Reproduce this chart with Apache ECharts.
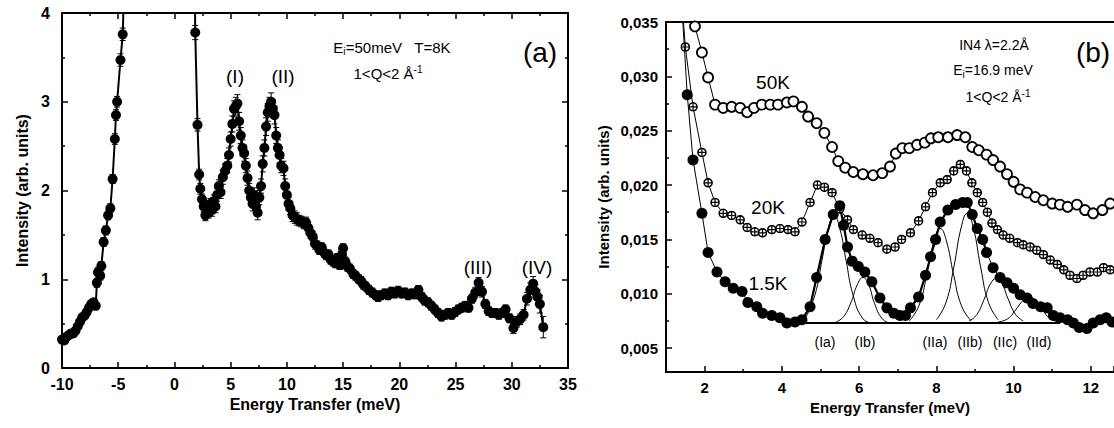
<!DOCTYPE html>
<html>
<head>
<meta charset="utf-8">
<script src="https://cdn.jsdelivr.net/npm/echarts@6/dist/echarts.min.js"></script>
<style>
  html, body { margin: 0; padding: 0; background: #fff; }
  #chart { width: 1114px; height: 428px; }
</style>
</head>
<body>
<div id="chart"></div>
<script>
// ---- panel (a): Ei=50meV, T=8K  -> [energy, intensity, error]
const aData = [
  [-10.0,0.32,0.03],[-9.8,0.31,0.03],[-9.6,0.35,0.03],[-9.4,0.37,0.03],[-9.2,0.39,0.03],[-9.0,0.39,0.03],
  [-8.8,0.42,0.03],[-8.6,0.47,0.03],[-8.4,0.52,0.03],[-8.2,0.57,0.03],[-8.0,0.59,0.03],[-7.8,0.63,0.03],
  [-7.6,0.68,0.04],[-7.4,0.72,0.04],[-7.2,0.74,0.04],[-7.0,0.70,0.04],[-6.9,0.96,0.05],[-6.8,1.08,0.05],
  [-6.6,1.04,0.05],[-6.5,1.15,0.05],[-6.3,1.42,0.05],[-6.1,1.55,0.05],[-5.9,1.72,0.05],[-5.7,1.80,0.05],
  [-5.5,2.13,0.05],[-5.3,2.58,0.06],[-5.2,2.85,0.06],[-5.1,3.00,0.06],[-4.8,3.47,0.07],[-4.6,3.76,0.07],
  [-4.2,5.5,0.1],[1.7,5.5,0.1],
  [1.85,3.78,0.08],[2.05,2.74,0.07],[2.2,2.18,0.06],[2.3,2.02,0.06],[2.45,1.90,0.06],[2.6,1.82,0.06],
  [2.75,1.72,0.06],[2.9,1.80,0.06],[3.05,1.75,0.06],[3.2,1.85,0.06],[3.35,1.78,0.07],[3.5,1.88,0.07],
  [3.65,1.82,0.07],[3.8,1.95,0.07],[3.95,2.05,0.07],[4.1,1.98,0.07],[4.3,2.15,0.08],[4.5,2.22,0.08],
  [4.7,2.28,0.08],[4.85,2.40,0.08],[5.0,2.58,0.08],[5.15,2.75,0.09],[5.3,2.92,0.09],[5.45,2.95,0.1],
  [5.6,2.98,0.1],[5.75,2.78,0.1],[5.9,2.62,0.09],[6.05,2.48,0.09],[6.2,2.42,0.09],[6.35,2.28,0.08],
  [6.5,2.14,0.08],[6.65,2.00,0.08],[6.8,1.92,0.08],[6.95,1.85,0.08],[7.1,1.95,0.08],[7.25,1.82,0.08],
  [7.4,1.75,0.08],[7.55,1.92,0.08],[7.7,2.05,0.08],[7.85,2.30,0.09],[8.0,2.48,0.09],[8.15,2.72,0.1],
  [8.3,2.88,0.1],[8.45,2.95,0.1],[8.6,3.00,0.1],[8.75,2.92,0.1],[8.9,2.85,0.1],[9.05,2.62,0.09],
  [9.2,2.48,0.09],[9.35,2.40,0.09],[9.5,2.28,0.08],[9.7,2.25,0.08],[9.85,2.05,0.08],[10.0,1.95,0.08],
  [10.15,1.85,0.07],[10.3,1.80,0.07],[10.5,1.72,0.07],[10.7,1.70,0.07],[10.9,1.68,0.07],[11.1,1.66,0.06],
  [11.3,1.65,0.06],[11.5,1.63,0.06],[11.7,1.64,0.06],[11.9,1.58,0.06],[12.1,1.52,0.06],[12.3,1.48,0.06],
  [12.5,1.40,0.06],[12.7,1.38,0.05],[12.9,1.33,0.05],[13.1,1.36,0.05],[13.3,1.30,0.05],[13.5,1.27,0.05],
  [13.7,1.28,0.05],[13.9,1.22,0.05],[14.1,1.20,0.05],[14.3,1.18,0.05],[14.5,1.24,0.05],[14.7,1.16,0.05],
  [14.9,1.28,0.05],[15.0,1.35,0.05],[15.2,1.20,0.05],[15.4,1.14,0.05],[15.6,1.12,0.05],[15.9,1.06,0.05],
  [16.1,1.04,0.05],[16.4,1.00,0.05],[16.6,0.98,0.05],[16.8,0.94,0.05],[17.0,0.92,0.05],[17.3,0.88,0.05],
  [17.6,0.85,0.05],[17.9,0.82,0.05],[18.1,0.80,0.05],[18.4,0.82,0.05],[18.7,0.84,0.05],[19.0,0.82,0.05],
  [19.3,0.86,0.05],[19.6,0.84,0.05],[19.9,0.87,0.05],[20.2,0.84,0.05],[20.5,0.85,0.05],[20.8,0.82,0.05],
  [21.1,0.84,0.05],[21.4,0.83,0.05],[21.7,0.88,0.05],[22.0,0.80,0.05],[22.25,0.76,0.05],[22.55,0.74,0.05],
  [22.85,0.70,0.05],[23.15,0.66,0.05],[23.45,0.62,0.05],[23.75,0.58,0.05],[24.05,0.60,0.05],[24.35,0.62,0.05],
  [24.65,0.60,0.05],[24.95,0.63,0.05],[25.25,0.66,0.05],[25.55,0.68,0.05],[25.85,0.70,0.05],[26.15,0.68,0.05],
  [26.45,0.78,0.05],[26.75,0.85,0.06],[27.05,0.96,0.06],[27.35,0.86,0.06],[27.65,0.72,0.05],[27.95,0.64,0.05],
  [28.25,0.62,0.05],[28.55,0.62,0.05],[28.85,0.60,0.05],[29.15,0.62,0.05],[29.45,0.66,0.05],[29.8,0.56,0.05],
  [30.15,0.45,0.06],[30.45,0.52,0.06],[30.75,0.55,0.06],[31.05,0.60,0.06],[31.35,0.78,0.07],[31.65,0.88,0.08],
  [31.9,0.95,0.08],[32.1,0.86,0.08],[32.3,0.80,0.08],[32.5,0.72,0.1],[32.8,0.46,0.12]
];

// ---- panel (b): IN4, Ei=16.9 meV  -> [energy, intensity]
const k50 = [
  [1.4,0.040],[1.75,0.0346],[1.93,0.0322],[2.09,0.0299],[2.27,0.0274],[2.48,0.0271],[2.7,0.0272],[2.92,0.0271],
  [3.1,0.0267],[3.28,0.0271],[3.48,0.0274],[3.7,0.0274],[3.9,0.0274],[4.13,0.0276],[4.3,0.0277],[4.52,0.0272],
  [4.68,0.0263],[4.9,0.0257],[5.1,0.0248],[5.3,0.0235],[5.46,0.0222],[5.64,0.0216],[5.85,0.0212],[6.1,0.0210],
  [6.36,0.0209],[6.6,0.0211],[6.8,0.0217],[6.95,0.0229],[7.12,0.0234],[7.3,0.0234],[7.5,0.0237],[7.7,0.0239],
  [7.86,0.0243],[8.05,0.0244],[8.3,0.0244],[8.54,0.0246],[8.75,0.0244],[8.93,0.0235],[9.1,0.0232],[9.3,0.0228],
  [9.47,0.0223],[9.65,0.0217],[9.83,0.0210],[10.0,0.0203],[10.17,0.0196],[10.35,0.0193],[10.56,0.0189],
  [10.77,0.0186],[11.0,0.0183],[11.2,0.0182],[11.4,0.0180],[11.64,0.0182],[11.85,0.0177],[12.06,0.0174],
  [12.3,0.0177],[12.5,0.0183]
];
const k20 = [
  [1.35,0.040],[1.5,0.0327],[1.7,0.0272],[1.93,0.0230],[2.09,0.0202],[2.27,0.0184],[2.48,0.0174],[2.7,0.0172],
  [2.92,0.0168],[3.1,0.0161],[3.3,0.0157],[3.5,0.0156],[3.74,0.0159],[3.95,0.0160],[4.16,0.0159],[4.34,0.0157],
  [4.52,0.0166],[4.73,0.0184],[4.92,0.0200],[5.1,0.0198],[5.3,0.0193],[5.5,0.0178],[5.7,0.0168],[5.85,0.0159],
  [6.08,0.0154],[6.28,0.0151],[6.49,0.0147],[6.72,0.0141],[6.93,0.0143],[7.1,0.0150],[7.33,0.0156],[7.54,0.0167],
  [7.72,0.0180],[7.9,0.0193],[8.1,0.0202],[8.28,0.0205],[8.45,0.0213],[8.62,0.0219],[8.78,0.0213],[8.92,0.0202],
  [9.06,0.0193],[9.2,0.0184],[9.32,0.0175],[9.44,0.0165],[9.58,0.0159],[9.73,0.0154],[9.9,0.0151],[10.1,0.0147],
  [10.25,0.0145],[10.43,0.0143],[10.6,0.0140],[10.77,0.0136],[10.95,0.0131],[11.13,0.0127],[11.3,0.0122],
  [11.46,0.0117],[11.64,0.0114],[11.8,0.0117],[11.98,0.0120],[12.17,0.0120],[12.33,0.0124],[12.5,0.0122]
];
const k15 = [
  [1.35,0.040],[1.55,0.0283],[1.7,0.0223],[1.93,0.0174],[2.09,0.0138],[2.32,0.0120],[2.53,0.0111],[2.74,0.0105],
  [2.97,0.0102],[3.12,0.0092],[3.35,0.0088],[3.5,0.0082],[3.74,0.0080],[3.95,0.0078],[4.13,0.0073],[4.34,0.0074],
  [4.52,0.0076],[4.73,0.0088],[4.9,0.0115],[5.12,0.0150],[5.33,0.0173],[5.5,0.0181],[5.6,0.0163],[5.7,0.0143],
  [5.82,0.0130],[5.98,0.0125],[6.15,0.0120],[6.33,0.0111],[6.54,0.0096],[6.72,0.0087],[6.9,0.0082],[7.06,0.0080],
  [7.2,0.0080],[7.33,0.0087],[7.54,0.0097],[7.72,0.0117],[7.85,0.0134],[7.98,0.0150],[8.1,0.0166],[8.3,0.0177],
  [8.5,0.0182],[8.68,0.0184],[8.8,0.0184],[8.93,0.0173],[9.06,0.0160],[9.2,0.0150],[9.3,0.0138],[9.47,0.0124],
  [9.65,0.0115],[9.83,0.0110],[10.0,0.0105],[10.17,0.0099],[10.35,0.0096],[10.5,0.0091],[10.7,0.0088],
  [10.87,0.0087],[11.03,0.0080],[11.2,0.0078],[11.4,0.0076],[11.55,0.0073],[11.7,0.0069],[11.9,0.0068],
  [12.06,0.0073],[12.24,0.0076],[12.4,0.0078],[12.55,0.0074]
];
// fitted components
const base = [[4.6,0.0073],[11.2,0.0073]];
const fitIa  = [[4.6,0.0077],[4.85,0.0098],[5.05,0.0133],[5.2,0.0160],[5.35,0.0172],[5.5,0.0160],[5.65,0.0133],[5.85,0.0098],[6.1,0.0077],[6.35,0.0073]];
const fitIb  = [[5.4,0.0074],[5.6,0.0079],[5.8,0.0093],[5.95,0.0108],[6.1,0.0115],[6.25,0.0108],[6.4,0.0091],[6.6,0.0077],[6.8,0.0073]];
const fitIIa = [[7.3,0.0075],[7.55,0.0089],[7.75,0.0117],[7.95,0.0150],[8.1,0.0160],[8.25,0.0150],[8.45,0.0117],[8.65,0.0089],[8.9,0.0075]];
const fitIIb = [[8.0,0.0076],[8.25,0.0092],[8.45,0.0124],[8.65,0.0162],[8.8,0.0174],[8.95,0.0162],[9.15,0.0124],[9.35,0.0092],[9.6,0.0076]];
const fitIIc = [[8.85,0.0075],[9.05,0.0081],[9.25,0.0096],[9.4,0.0109],[9.55,0.0114],[9.7,0.0109],[9.85,0.0096],[10.05,0.0081],[10.25,0.0075]];
const fitIId = [[9.6,0.0074],[9.85,0.0077],[10.05,0.0085],[10.25,0.0094],[10.4,0.0097],[10.55,0.0094],[10.75,0.0085],[10.95,0.0077],[11.2,0.0074]];
const fitLabels = ['(Ia)', '(Ib)', '(IIa)', '(IIb)', '(IIc)', '(IId)'];

const FONT = '"Liberation Sans", Arial, sans-serif';
const NARROW = '"Liberation Sans Narrow", "Liberation Sans", Arial, sans-serif';

const crossSvg = "<svg xmlns='http://www.w3.org/2000/svg' width='20' height='20' viewBox='0 0 20 20'>" +
  "<circle cx='10' cy='10' r='8' fill='white' stroke='black' stroke-width='3.2'/>" +
  "<path d='M10 2V18M2 10H18' stroke='black' stroke-width='2.4'/></svg>";
const crossSymbol = 'image://data:image/svg+xml;charset=utf-8,' + encodeURIComponent(crossSvg);

const chart = echarts.init(document.getElementById('chart'), null, { renderer: 'svg' });

function frameAxis(gridIndex, pos, extra) {
  return Object.assign({
    gridIndex, position: pos, type: 'value',
    axisLine: { show: true, onZero: false, lineStyle: { color: '#000', width: 2 } },
    axisTick: { show: true, inside: true, length: 6, lineStyle: { color: '#000', width: 1.5 } },
    minorTick: { show: true, splitNumber: 2, length: 3, lineStyle: { color: '#000', width: 1.5 } },
    axisLabel: { show: false },
    splitLine: { show: false }
  }, extra);
}

const labelA = { show: true, color: '#000', fontFamily: FONT, fontSize: 16, fontWeight: 'bold', margin: 8 };
const labelB = { show: true, color: '#000', fontFamily: FONT, fontSize: 15, fontWeight: 'bold', margin: 8 };
const nameStyle = { color: '#000', fontFamily: FONT, fontSize: 16, fontWeight: 'bold' };

function fitSeries(data) {
  return {
    type: 'line', xAxisIndex: 2, yAxisIndex: 2, data, smooth: 0.5, symbol: 'none',
    lineStyle: { color: '#000', width: 1 }, z: 1, silent: true
  };
}

function txt(x, y, text, size, opts) {
  return {
    type: 'text', x, y, silent: true,
    style: Object.assign({
      text, fill: '#000', font: size + 'px ' + FONT, align: 'center', verticalAlign: 'middle'
    }, opts || {})
  };
}

const richSub = {
  s: { fontSize: 10, fontFamily: NARROW, padding: [9, 0, 0, 0], fill: '#000' },
  p: { fontSize: 10, fontFamily: NARROW, padding: [0, 0, 8, 0], fill: '#000' }
};

const option = {
  backgroundColor: '#fff',
  animation: false,
  grid: [
    { left: 62, right: 546, top: 13, bottom: 60, outerBoundsMode: 'none' },
    { left: 666, right: 0, top: 22, bottom: 56, outerBoundsMode: 'none' }
  ],
  xAxis: [
    frameAxis(0, 'bottom', {
      min: -10, max: 35, interval: 5, axisLabel: labelA,
      name: 'Energy Transfer (meV)', nameLocation: 'middle', nameGap: 26, nameTextStyle: nameStyle
    }),
    frameAxis(0, 'top', { min: -10, max: 35, interval: 5 }),
    frameAxis(1, 'bottom', {
      min: 1, max: 12.6, splitNumber: 6,
      axisLabel: Object.assign({}, labelB, { showMinLabel: false, showMaxLabel: false }),
      name: 'Energy Transfer (meV)', nameLocation: 'middle', nameGap: 27,
      nameTextStyle: Object.assign({}, nameStyle, { fontSize: 15 })
    }),
    frameAxis(1, 'top', { min: 1, max: 12.6, splitNumber: 6, axisTick: { show: false }, minorTick: { show: false } })
  ],
  yAxis: [
    frameAxis(0, 'left', {
      min: 0, max: 4, interval: 1, axisLabel: Object.assign({}, labelA, { margin: 12 }),
      name: 'Intensity (arb. units)', nameLocation: 'middle', nameGap: 32, nameRotate: 90, nameTextStyle: nameStyle
    }),
    frameAxis(0, 'right', { min: 0, max: 4, interval: 1 }),
    frameAxis(1, 'left', {
      min: 0.0028, max: 0.035, splitNumber: 6,
      axisLabel: Object.assign({}, labelB, {
        showMinLabel: false,
        formatter: v => v.toFixed(3).replace('.', ',')
      }),
      name: 'Intensity (arb. units)', nameLocation: 'middle', nameGap: 55, nameRotate: 90,
      nameTextStyle: Object.assign({}, nameStyle, { fontSize: 15 })
    })
  ],
  series: [
    // panel (a)
    {
      type: 'custom', xAxisIndex: 0, yAxisIndex: 0, data: aData, encode: { x: 0, y: 1 }, z: 2, silent: true,
      renderItem(params, api) {
        const x = api.value(0), y = api.value(1), e = api.value(2);
        const hi = api.coord([x, y + e]), lo = api.coord([x, y - e]);
        const cs = params.coordSys;
        if (hi[1] > cs.y + cs.height || lo[1] < cs.y) return null;
        const t = Math.max(hi[1], cs.y), b = Math.min(lo[1], cs.y + cs.height);
        const st = { stroke: '#000', lineWidth: 1 };
        const kids = [{ type: 'line', shape: { x1: hi[0], y1: t, x2: hi[0], y2: b }, style: st }];
        if (hi[1] >= cs.y) kids.push({ type: 'line', shape: { x1: hi[0] - 3, y1: hi[1], x2: hi[0] + 3, y2: hi[1] }, style: st });
        kids.push({ type: 'line', shape: { x1: lo[0] - 3, y1: lo[1], x2: lo[0] + 3, y2: lo[1] }, style: st });
        return { type: 'group', children: kids };
      }
    },
    {
      type: 'line', name: 'T=8K', xAxisIndex: 0, yAxisIndex: 0, data: aData, clip: true,
      symbol: 'circle', symbolSize: 10, itemStyle: { color: '#000' },
      lineStyle: { color: '#000', width: 2 }, z: 3
    },
    // panel (b) fitted components
    {
      type: 'line', xAxisIndex: 2, yAxisIndex: 2, data: base, symbol: 'none',
      lineStyle: { color: '#000', width: 2 }, z: 1, silent: true
    },
    fitSeries(fitIa), fitSeries(fitIb), fitSeries(fitIIa), fitSeries(fitIIb), fitSeries(fitIIc), fitSeries(fitIId),
    {
      type: 'line', xAxisIndex: 2, yAxisIndex: 2, data: k15.filter(p => p[0] >= 4.4 && p[0] <= 9.35),
      symbol: 'none', lineStyle: { color: '#000', width: 2.2 }, z: 2, silent: true
    },
    // panel (b) data
    {
      type: 'line', name: '50K', xAxisIndex: 2, yAxisIndex: 2, data: k50, clip: true,
      symbol: 'circle', symbolSize: 10,
      itemStyle: { color: '#fff', borderColor: '#000', borderWidth: 1.8 },
      lineStyle: { color: '#000', width: 1 }, z: 3
    },
    {
      type: 'line', name: '20K', xAxisIndex: 2, yAxisIndex: 2, data: k20, clip: true,
      symbol: crossSymbol, symbolSize: 10, itemStyle: { color: '#000' },
      lineStyle: { color: '#000', width: 1 }, z: 3
    },
    {
      type: 'line', name: '1.5K', xAxisIndex: 2, yAxisIndex: 2, data: k15, clip: true,
      symbol: 'circle', symbolSize: 11, itemStyle: { color: '#000' },
      lineStyle: { color: '#000', width: 1 }, z: 4
    }
  ],
  graphic: [
    // panel (a) annotations
    txt(235, 76, '(I)', 19),
    txt(283, 76, '(II)', 19),
    txt(392, 47, 'E{s|i}=50meV   T=8K', 15, { font: '15px ' + NARROW, rich: richSub }),
    txt(388, 73, '1<Q<2 Å{p|-1}', 15, { font: '15px ' + NARROW, rich: richSub }),
    txt(540, 52, '(a)', 28),
    txt(478, 267, '(III)', 19),
    txt(537, 267, '(IV)', 19),
    // panel (b) annotations
    txt(994, 45, 'IN4 λ=2.2Å', 14, { font: '14px ' + NARROW }),
    txt(993, 70, 'E{s|i}=16.9 meV', 14, { font: '14px ' + NARROW, rich: richSub }),
    txt(998, 97, '1<Q<2 Å{p|-1}', 14, { font: '14px ' + NARROW, rich: richSub }),
    txt(1093, 52, '(b)', 28),
    txt(773, 82, '50K', 19),
    txt(768, 207, '20K', 19),
    txt(768, 283, '1.5K', 19),
    txt(825, 342, fitLabels[0], 14),
    txt(865, 342, fitLabels[1], 14),
    txt(935, 342, fitLabels[2], 14),
    txt(970, 342, fitLabels[3], 14),
    txt(1005, 342, fitLabels[4], 14),
    txt(1039, 342, fitLabels[5], 14)
  ]
};

chart.setOption(option);
</script>
</body>
</html>
